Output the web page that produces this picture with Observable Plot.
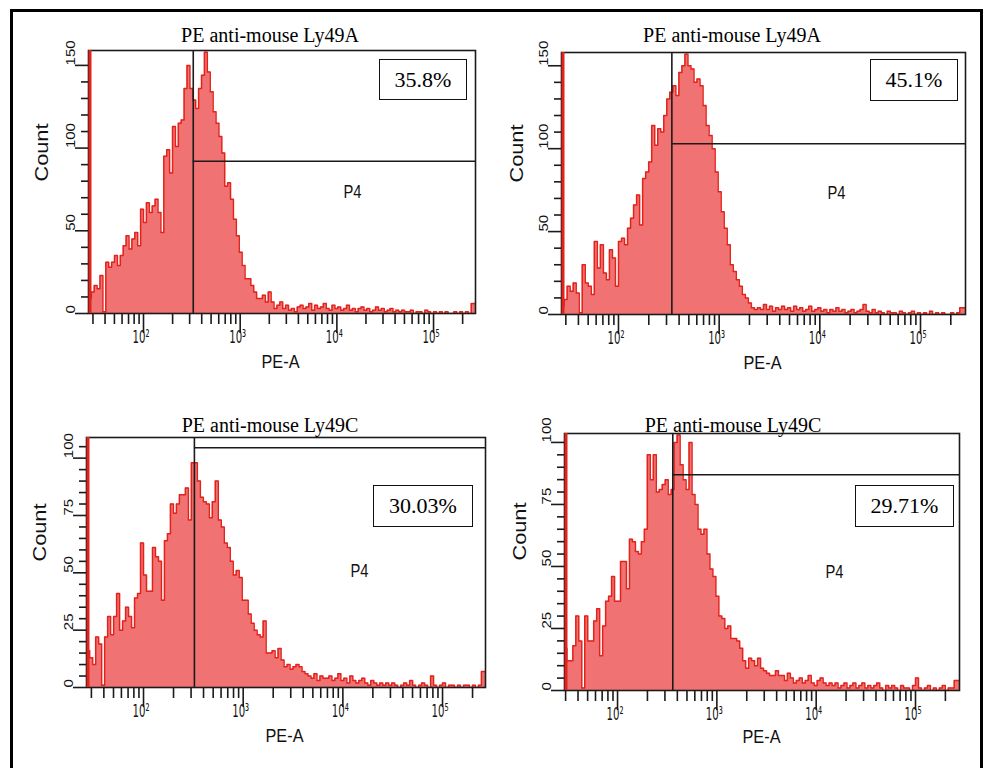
<!DOCTYPE html>
<html>
<head>
<meta charset="utf-8">
<title>PE anti-mouse Ly49A / Ly49C</title>
<script src="https://cdn.jsdelivr.net/npm/d3@7"></script>
<script src="https://cdn.jsdelivr.net/npm/@observablehq/plot@0.6"></script>
<style>
  html, body { margin: 0; padding: 0; background: #fff; }
  #fig { position: relative; width: 984px; height: 768px; overflow: hidden; background: #fff; }
  #fig .border { position: absolute; left: 10px; top: 9px; width: 973px; height: 820px; border: 3px solid #000; box-sizing: border-box; }
  #fig .chart { position: absolute; }
  #fig .chart svg { overflow: visible; display: block; }
  #fig .title { position: absolute; transform: translate(-50%, -50%); font: 20px "Liberation Serif", "Times New Roman", serif; line-height: 1; white-space: nowrap; color: #000; }
  #fig .pct { position: absolute; box-sizing: border-box; border: 1.6px solid #111; display: flex; align-items: center; justify-content: center; font: 22px "Liberation Serif", "Times New Roman", serif; color: #000; background: #fff; }
</style>
</head>
<body>
<div id="fig"><div class="border"></div></div>
<script>
// Histogram bins along PE-A, in log10 units
const binStartLog = 1.43;
const binWidthLog = 0.03;

const titles = ["PE anti-mouse Ly49A", "PE anti-mouse Ly49A", "PE anti-mouse Ly49C", "PE anti-mouse Ly49C"];
const gatePercents = ["35.8%", "45.1%", "30.03%", "29.71%"];
const gateName = "P4";
const gateStart = [327, 339, 324, 360];      // PE-A value where gate P4 opens
const gateMarker = [92, 103, 104.5, 87];     // count level of the gate bar
const countTop = [159, 158, 109, 103.6];
const countTicks = [[0, 50, 100, 150], [0, 50, 100, 150], [0, 25, 50, 75, 100], [0, 25, 50, 75, 100]];
const countMinorStep = [10, 10, 5, 5];
const peDecades = [100, 1000, 10000, 100000];
const peDecadeLabels = ["10²", "10³", "10⁴", "10⁵"];
const peRangeLog = [[1.431, 5.434], [1.434, 5.447], [1.428, 5.431], [1.466, 5.443]];

// Event counts per bin
const countsA = [9,13,17,15,23,1,31,28,31,35, 29,35,41,47,39,45,49,41,63,55,
  67,61,65,69,61,49,95,99,85,113, 101,115,117,136,150,136,129,124,136,144,
  158,146,134,122,115,107,97,77,79,69, 57,47,37,29,21,21,17,13,9,9,
  11,7,13,7,3,5,7,3,5,2, 3,1,4,5,3,
  4,6,2,5,3,4,6,3,2,5, 3,4,2,3,5,2,3,1,3,4, 2,3,1,2,4,2,3,1,2,3,
  1,2,1,2,1,1,2,0,1,1, 0,2,1,0,1,0,1,0,1,0, 0,1,0,1,0,1,0,6];
const countsB = [5,9,17,14,19,13,1,30,19,17, 12,44,28,42,25,21,39,34,17,44,
  46,42,52,58,66,72,54,82,86,92, 114,102,112,110,120,130,134,138,132,146,
  150,157,150,148,140,142,138,126,114,108, 100,86,74,62,52,42,30,26,21,17,
  12,10,7,4,3,4,3,6,3,5, 2,4,3,
  5,3,4,2,5,3,4,2,3,5, 2,3,4,2,3,1,3,2,4,2, 3,1,2,3,1,2,3,6,2,1,
  3,1,2,1,0,2,1,1,0,2, 1,0,1,2,0,1,0,1,0,2, 0,1,0,1,0,0,1,0,1,4];
const countsC = [16,13,10,22,19,1,22,31,23,31, 41,25,29,35,31,26,39,41,63,49,
  42,42,61,57,55,38,64,67,80,76, 80,84,84,87,73,98,98,90,83,81,
  80,74,81,90,73,70,63,61,55,49, 51,48,38,38,32,28,25,23,22,29,
  15,15,16,13,17,12,9,10,8,9, 10,9,7,6,5,4,6,3,5,4, 4,5,3,4,
  6,3,4,2,5,3,2,3,4,2, 1,3,2,1,2,1,2,1,2,1, 0,1,2,1,3,1,0,1,2,1,
  0,5,1,0,1,2,0,1,1,0, 1,0,1,1,0,1,0,1,7];
const countsD = [14,17,12,12,18,30,20,1,30,20, 20,28,33,14,26,36,38,46,36,36,
  52,52,41,61,60,56,55,60,65,95, 85,95,80,81,83,85,79,81,100,103,
  91,85,81,100,79,75,65,63,65,55, 49,46,38,30,29,25,26,21,21,20,
  17,12,9,13,12,10,13,9,8,7, 6,6,8,6,6,4,7,5,3,
  4,5,3,4,6,3,2,4,5,3, 2,3,2,3,1,2,3,1,2,3, 1,2,3,1,2,1,2,3,1,0,
  2,1,2,1,0,2,1,1,0,2, 5,1,0,1,2,0,1,0,1,2, 0,1,1,4];
const series = [countsA, countsB, countsC, countsD];

// Page placement of each panel (plot frame, title, percentage box, labels)
const frames = [
  {L: 88,  R: 475, T: 50,  B: 313, title: [270, 35],  box: [379, 59, 467, 100], count: [42, 181],  pea: [280, 367], p4: [343, 185]},
  {L: 561, R: 965, T: 52,  B: 314, title: [732, 35],  box: [870, 59, 958, 101], count: [517, 182], pea: [762, 368], p4: [827, 186]},
  {L: 86,  R: 485, T: 437, B: 687, title: [270, 425], box: [373, 485, 473, 527], count: [40, 561],  pea: [284, 741], p4: [350, 564]},
  {L: 564, R: 959, T: 433, B: 690, title: [733, 425], box: [855, 485, 954, 527], count: [520, 560], pea: [761, 742], p4: [825, 565]}
];

const RED = "#e2231c", FILL = "#f07272", INK = "#1b1b1b";
const mL = 72, mR = 14, mT = 14, mB = 72;
const fig = document.getElementById("fig");

// Narrow or stretch label glyphs along their reading direction
const textLengths = {
  "count-ticks": n => n * 1.2,
  "pe-decade": () => 17,
  "count-label": () => 58,
  "pe-label": () => 38,
  "gate-name": () => 18
};

frames.forEach((f, i) => {
  const lo = 10 ** peRangeLog[i][0], hi = 10 ** peRangeLog[i][1];
  const counts = series[i];
  // one step per bin, the last one held out to the axis end
  const bins = counts.map((n, k) => ({pe: 10 ** (binStartLog + k * binWidthLog), n}));
  bins.push({pe: hi, n: counts[counts.length - 1]});

  const minorPE = [];
  for (const dec of [10, ...peDecades]) {
    for (let m = 2; m <= 9; m++) {
      const v = m * dec;
      if (v > lo && v < hi) minorPE.push(v);
    }
  }
  const majorCount = countTicks[i];
  const minorCount = d3.range(0, countTop[i], countMinorStep[i]).filter(v => !majorCount.includes(v));
  const cx = (f.L + f.R) / 2, cy = (f.T + f.B) / 2;

  const svg = Plot.plot({
    width: f.R - f.L + mL + mR,
    height: f.B - f.T + mT + mB,
    marginLeft: mL, marginRight: mR, marginTop: mT, marginBottom: mB,
    x: {type: "log", domain: [lo, hi]},
    y: {domain: [0, countTop[i]]},
    style: {background: "transparent", fontFamily: '"Liberation Sans", Arial, sans-serif', color: "#111", overflow: "visible"},
    marks: [
      Plot.areaY(bins, {x: "pe", y: "n", curve: "step-after", fill: FILL, clip: true}),
      Plot.lineY(bins, {x: "pe", y: "n", curve: "step-after", stroke: RED, strokeWidth: 1.5, clip: true}),
      Plot.frame({stroke: INK, strokeWidth: 1.6}),
      Plot.ruleX([lo], {stroke: RED, strokeWidth: 3, dx: 1.5}),
      Plot.ruleX([gateStart[i]], {stroke: INK, strokeWidth: 1.6}),
      Plot.ruleY([gateMarker[i]], {x1: gateStart[i], x2: hi, stroke: INK, strokeWidth: 1.6}),
      Plot.axisX({ticks: peDecades, tickSize: 20, tickFormat: () => "", label: null, stroke: INK, strokeWidth: 1.6}),
      Plot.axisX({ticks: minorPE, tickSize: 11, tickFormat: () => "", label: null, stroke: INK, strokeWidth: 1.6}),
      Plot.axisY({ticks: majorCount, tickSize: 13, tickFormat: () => "", label: null, stroke: INK, strokeWidth: 1.6}),
      Plot.axisY({ticks: minorCount, tickSize: 7, tickFormat: () => "", label: null, stroke: INK, strokeWidth: 1.6}),
      Plot.text(majorCount, {y: d => d, text: d => String(d), frameAnchor: "left", dx: -17.5, rotate: -90, fontSize: 12.5, fill: "#111", ariaDescription: "count-ticks"}),
      Plot.text(peDecades, {x: d => d, text: (d, k) => peDecadeLabels[k], frameAnchor: "bottom", dy: 29, dx: -11, textAnchor: "start", fontSize: 18, fontFamily: '"DejaVu Sans", sans-serif', fill: "#111", ariaDescription: "pe-decade"}),
      Plot.text(["Count"], {text: d => d, frameAnchor: "left", dx: f.count[0] - f.L, dy: f.count[1] - cy, rotate: -90, fontSize: 18, fill: "#111", ariaDescription: "count-label"}),
      Plot.text(["PE-A"], {text: d => d, frameAnchor: "bottom", dx: f.pea[0] - cx, dy: f.pea[1] - f.B, fontSize: 19, fill: "#111", ariaDescription: "pe-label"}),
      Plot.text([gateName], {text: d => d, frameAnchor: "top-left", dx: f.p4[0] - f.L, dy: f.p4[1] - f.T, fontSize: 18, fill: "#111", ariaDescription: "gate-name"})
    ]
  });

  const wrap = document.createElement("div");
  wrap.className = "chart";
  wrap.style.left = (f.L - mL) + "px";
  wrap.style.top = (f.T - mT) + "px";
  wrap.appendChild(svg);
  fig.appendChild(wrap);

  for (const [key, len] of Object.entries(textLengths)) {
    svg.querySelectorAll(`[aria-description="${key}"] text`).forEach(t => {
      t.setAttribute("textLength", len(t.getComputedTextLength()));
      t.setAttribute("lengthAdjust", "spacingAndGlyphs");
    });
  }

  const title = document.createElement("div");
  title.className = "title";
  title.textContent = titles[i];
  title.style.left = f.title[0] + "px";
  title.style.top = f.title[1] + "px";
  fig.appendChild(title);

  const box = document.createElement("div");
  box.className = "pct";
  box.textContent = gatePercents[i];
  box.style.left = f.box[0] + "px";
  box.style.top = f.box[1] + "px";
  box.style.width = (f.box[2] - f.box[0]) + "px";
  box.style.height = (f.box[3] - f.box[1]) + "px";
  fig.appendChild(box);
});
</script>
</body>
</html>
